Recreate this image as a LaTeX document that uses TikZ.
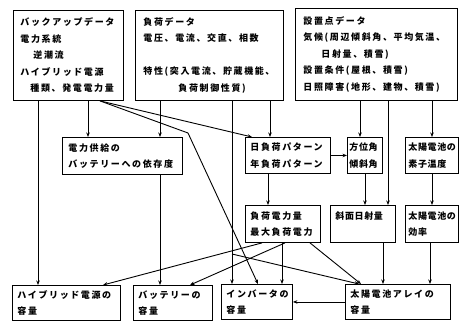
\documentclass[tikz,border=0pt]{standalone}
\usepackage{fontspec}
\newfontfamily\jp[LetterSpace=18]{Noto Sans CJK JP}
\newfontfamily\jpn[LetterSpace=7]{Noto Sans CJK JP}
\usetikzlibrary{arrows.meta}
\begin{document}
\begin{tikzpicture}[x=1pt,y=-1pt,
  box/.style={draw, line width=0.9pt, anchor=north west, inner ysep=0pt, align=left,
    font={\jp\bfseries\fontsize{9pt}{16.5pt}\selectfont}},
  nbox/.style={box, font={\jpn\bfseries\fontsize{9pt}{16.5pt}\selectfont}},
  conn/.style={line width=0.9pt, -{Stealth[length=4.5pt,width=3.5pt]}}]
\useasboundingbox (0,0) rectangle (463,321);
% boxes
\node[box, inner xsep=7pt, text width=96pt, minimum height=90pt] (b1) at (13,10)
  {バックアップデータ\\電力系統\\\hspace*{13pt}逆潮流\\ハイブリッド電源\\\hspace*{10pt}種類、発電電力量};
\node[box, inner xsep=8pt, text width=132pt, minimum height=90pt] (b2) at (135,10)
  {負荷データ\\電圧、電流、交直、相数\\\mbox{}\\特性(突入電流、貯蔵機能、\\\hspace*{35pt}負荷制御性質)};
\node[box, inner xsep=8pt, text width=146pt, minimum height=92pt] (b3) at (295,8)
  {設置点データ\\気候(周辺傾斜角、平均気温、\\\hspace*{18pt}日射量、積雪)\\設置条件(屋根、積雪)\\日照障害(地形、建物、積雪)};
\node[box, inner xsep=6pt, text width=108pt, minimum height=37pt] (dep) at (62,137)
  {電力供給の\\バッテリーへの依存度};
\node[box, inner xsep=5pt, text width=75pt, minimum height=36pt] (dpat) at (245,137)
  {日負荷パターン\\年負荷パターン};
\node[nbox, inner xsep=2pt, text width=31pt, minimum height=36pt] (azi) at (347,137)
  {方位角\\傾斜角};
\node[nbox, inner xsep=3pt, text width=47pt, minimum height=36pt] (temp) at (405,137)
  {太陽電池の\\素子温度};
\node[box, inner xsep=5pt, text width=65pt, minimum height=37pt] (load) at (245,205)
  {負荷電力量\\最大負荷電力};
\node[nbox, inner xsep=5pt, text width=55pt, minimum height=37pt] (slope) at (330,205)
  {斜面日射量\\\mbox{}};
\node[nbox, inner xsep=3pt, text width=47pt, minimum height=37pt] (eff) at (405,205)
  {太陽電池の\\効率};
\node[box, inner xsep=5pt, text width=98pt, minimum height=35pt] (hyb) at (12,285)
  {ハイブリッド電源の\\容量};
\node[box, inner xsep=5pt, text width=69pt, minimum height=35pt] (bat) at (133,285)
  {バッテリーの\\容量};
\node[box, inner xsep=5pt, text width=61pt, minimum height=35pt] (inv) at (221,284)
  {インバータの\\容量};
\node[box, inner xsep=5pt, text width=95pt, minimum height=35pt] (arrn) at (345,284)
  {太陽電池アレイの\\容量};
% helper coordinates
\foreach \v in {38,88,100,103,160,190,232,252,258,262,268,270,282,285,310,359,361,360,365,383,388,430,432}
  {\coordinate (v\v) at (\v,0);}
\coordinate (kB) at (188,133);
\coordinate (j232) at (232,254);
% connectors
\draw[conn] (b1.south -| v38) -- (hyb.north -| v38);
\draw[conn] (b1.south -| v88) -- (dep.north -| v88);
\draw[conn] (b1.south -| v100) -- (dpat.north -| v252);
\draw[conn] (b1.south -| v100) -- (kB) -- (inv.north -| v258);
\draw[conn] (b2.south -| v160) -- (dep.north -| v160);
\draw[conn] (b2.south -| v232) -- (inv.north -| v232);
\draw[conn] (b2.south -| v270) -- (dpat.north -| v270);
\draw[conn] (b3.south -| v360) -- (azi.north -| v360);
\draw[conn] (b3.south -| v388) -- (slope.north -| v388);
\draw[conn] (b3.south -| v432) -- (temp.north -| v432);
\draw[conn] (dpat.east) -- (azi.west);
\draw[conn] (dpat.south -| v268) -- (load.north -| v268);
\draw[conn] (azi.south -| v365) -- (slope.north -| v365);
\draw[conn] (temp.south -| v432) -- (eff.north -| v432);
\draw[conn] (dep.south -| v160) -- (bat.north -| v160);
\draw[conn] (load.south -| v282) -- (inv.north -| v282);
\draw[conn] (load.south -| v310) -- (arrn.north -| v361);
\draw[conn] (load.south -| v262) -- (hyb.north -| v103);
\draw[conn] (load.south -| v285) -- (bat.north -| v190);
\draw[conn] (slope.south -| v383) -- (arrn.north -| v383);
\draw[conn] (eff.south -| v430) -- (arrn.north -| v430);
\draw[conn] (arrn.west) -- (inv.east);
\draw[conn] (j232) -- (arrn.north -| v359);
\end{tikzpicture}
\end{document}
